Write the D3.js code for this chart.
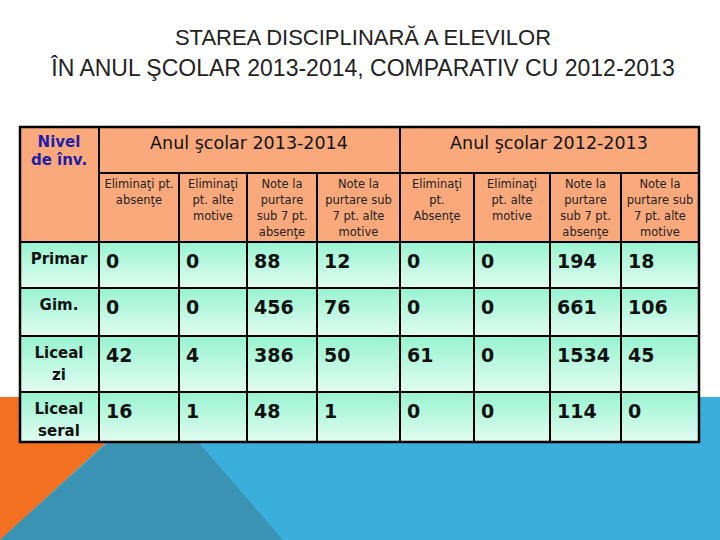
<!DOCTYPE html>
<html><head><meta charset="utf-8">
<script src="https://cdn.jsdelivr.net/npm/d3@7"></script>
<style>body{margin:0;background:#fff}svg{display:block}</style>
</head><body>
<svg id="c" width="720" height="540"></svg>
<script>
const titleLines = ["STAREA DISCIPLINARĂ A ELEVILOR", "ÎN ANUL ŞCOLAR 2013-2014, COMPARATIV CU 2012-2013"];
const levels = [["Primar"], ["Gim."], ["Liceal", "zi"], ["Liceal", "seral"]];
const yearGroups = ["Anul şcolar 2013-2014", "Anul şcolar 2012-2013"];
const subHeaders = [
  ["Eliminaţi pt.", "absenţe"], ["Eliminaţi", "pt. alte", "motive"], ["Note la", "purtare", "sub 7 pt.", "absenţe"], ["Note la", "purtare sub", "7 pt. alte", "motive"],
  ["Eliminaţi", "pt.", "Absenţe"], ["Eliminaţi", "pt. alte", "motive"], ["Note la", "purtare", "sub 7 pt.", "absenţe"], ["Note la", "purtare sub", "7 pt. alte", "motive"]
];
const values = [
  [0, 0, 88, 12, 0, 0, 194, 18],
  [0, 0, 456, 76, 0, 0, 661, 106],
  [42, 4, 386, 50, 61, 0, 1534, 45],
  [16, 1, 48, 1, 0, 0, 114, 0]
];

const svg = d3.select("#c");
const font = "Tahoma, 'DejaVu Sans', Verdana, sans-serif";
svg.append("rect").attr("x",0).attr("y",397).attr("width",720).attr("height",143).attr("fill","#3aafdc");
svg.append("path").attr("d","M0,397L156,397L0,540Z").attr("fill","#f37021");
svg.append("path").attr("d","M159,397L0,540L283,540Z").attr("fill","#3a93b3");

svg.append("g").selectAll("text").data(titleLines).join("text")
  .attr("x",363).attr("y",(d,i)=>45+i*31).attr("text-anchor","middle")
  .attr("font-family","'Liberation Sans', Arial, sans-serif").attr("font-size",(d,i)=>i===0?22:23).attr("fill","#222")
  .text(d=>d);

const colEdges = [20, 99, 179, 247, 317, 400, 474, 550, 621, 699];
const rowEdges = [127, 173, 242, 288, 336, 392, 442];
const colIdx = d3.range(colEdges.length-1);
const x = i => colEdges[i], w = i => colEdges[i+1]-colEdges[i];
const rY = i => rowEdges[i], rH = i => rowEdges[i+1]-rowEdges[i];

const defs = svg.append("defs");
const gr = defs.append("linearGradient").attr("id","g").attr("x1",0).attr("y1",0).attr("x2",0).attr("y2",1);
gr.append("stop").attr("offset","0").attr("stop-color","#98f4d0");
gr.append("stop").attr("offset","1").attr("stop-color","#e2fcf2");

const T = svg.append("g");
const head = "#f9a97b";
T.append("rect").attr("x",20).attr("y",127).attr("width",679).attr("height",115).attr("fill",head);
values.forEach((row,r)=>{
  colIdx.forEach(c=>{
    T.append("rect").attr("x",x(c)).attr("y",rY(r+2)).attr("width",w(c)).attr("height",rH(r+2)).attr("fill","url(#g)");
  });
});
const L = T.append("g").attr("stroke","#000").attr("stroke-width",2);
L.append("line").attr("x1",99).attr("x2",99).attr("y1",127).attr("y2",442);
L.append("line").attr("x1",400).attr("x2",400).attr("y1",127).attr("y2",442);
d3.range(1,9).filter(c=>c!==4).forEach(c=>L.append("line").attr("x1",x(c+1)).attr("x2",x(c+1)).attr("y1",173).attr("y2",442));
L.append("line").attr("x1",99).attr("x2",699).attr("y1",173).attr("y2",173);
d3.range(2,6).forEach(r=>L.append("line").attr("x1",20).attr("x2",699).attr("y1",rY(r)).attr("y2",rY(r)));
T.append("rect").attr("x",20).attr("y",127).attr("width",679).attr("height",315).attr("fill","none").attr("stroke","#000").attr("stroke-width",2.5);

T.selectAll(".nv").data(["Nivel","de înv."]).join("text")
  .attr("x",59).attr("y",(d,i)=>147+i*18).attr("text-anchor","middle")
  .attr("font-family",font).attr("font-weight","bold").attr("font-size",15).attr("fill","#1f1fa8").text(d=>d);
T.selectAll(".yg").data(yearGroups).join("text")
  .attr("x",(d,i)=>i===0?249:549).attr("y",149).attr("text-anchor","middle")
  .attr("font-family",font).attr("font-size",17.5).attr("fill","#111").text(d=>d);
subHeaders.forEach((lines,c)=>{
  T.append("text").attr("text-anchor","middle").attr("font-family",font).attr("font-size",11.5).attr("fill","#222")
    .selectAll("tspan").data(lines).join("tspan")
    .attr("x",x(c+1)+w(c+1)/2).attr("y",(d,i)=>188+i*16).text(d=>d);
});
levels.forEach((lines,r)=>{
  T.append("text").attr("text-anchor","middle").attr("font-family",font).attr("font-weight","bold").attr("font-size",15).attr("fill","#111")
    .selectAll("tspan").data(lines).join("tspan")
    .attr("x",59).attr("y",(d,i)=>rY(r+2)+22+i*22).text(d=>d);
});
values.forEach((row,r)=>{
  T.append("g").selectAll("text").data(row).join("text")
    .attr("x",(d,c)=>x(c+1)+7).attr("y",rY(r+2)+26)
    .attr("font-family",font).attr("font-weight","bold").attr("font-size",19).attr("fill","#111")
    .text(d=>d);
});
</script>
</body></html>
